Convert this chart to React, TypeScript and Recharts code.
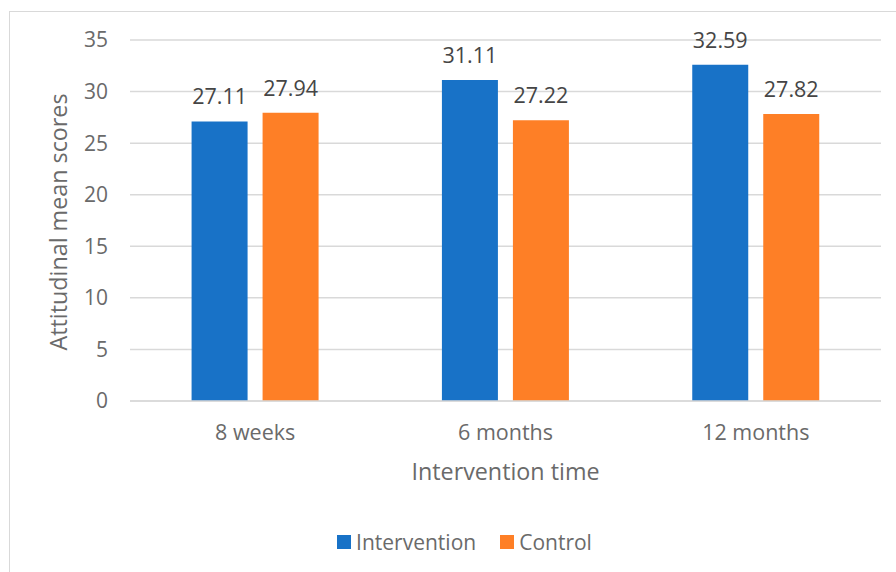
import React from 'react';
import { BarChart, Bar, XAxis, YAxis, CartesianGrid, Legend, LabelList } from 'recharts';

const categories = ['8 weeks', '6 months', '12 months'];
const intervention = [27.11, 31.11, 32.59];
const control = [27.94, 27.22, 27.82];
const yTicks = [0, 5, 10, 15, 20, 25, 30, 35];

const BLUE = '#1872C7';
const ORANGE = '#FE7F26';
const FONT = '"Open Sans", sans-serif';
const GRAY = '#6a6a6a';

const data = categories.map((c, i) => ({ name: c, intervention: intervention[i], control: control[i] }));

const renderLegend = () => (
  <div
    style={{
      display: 'flex',
      justifyContent: 'center',
      alignItems: 'flex-start',
      height: 44,
      gap: 24,
      fontFamily: FONT,
      fontSize: 21,
      lineHeight: '28px',
      color: GRAY,
      paddingLeft: 48,
    }}
  >
    {[
      { label: 'Intervention', color: BLUE },
      { label: 'Control', color: ORANGE },
    ].map((d) => (
      <div key={d.label} style={{ display: 'flex', alignItems: 'center', gap: 5 }}>
        <div style={{ width: 14, height: 14, background: d.color }} />
        {d.label}
      </div>
    ))}
  </div>
);

export default function App() {
  return (
    <div style={{ position: 'absolute', left: 0, top: 0, width: 896, height: 572, background: '#fff', overflow: 'hidden' }}>
      <div style={{ position: 'absolute', left: 9, top: 11, width: 900, height: 600, border: '1.5px solid #d9d9d9' }} />
      <div style={{ position: 'absolute', left: 0, top: 0 }}>
        <BarChart
          width={896}
          height={572}
          data={data}
          margin={{ top: 40, right: 15, left: 0, bottom: 0 }}
          barCategoryGap="24.6%"
          barGap={15}
        >
          <CartesianGrid vertical={false} stroke="#d9d9d9" strokeWidth={1.5} />
          <YAxis
            width={130}
            domain={[0, 35]}
            ticks={yTicks}
            axisLine={false}
            tickLine={false}
            tick={{ fill: GRAY, fontSize: 21, fontFamily: FONT }}
            tickMargin={16}
            label={{
              value: 'Attitudinal mean scores',
              angle: -90,
              position: 'insideLeft',
              dx: 54,
              dy: 130,
              style: { fill: GRAY, fontSize: 23.3, fontFamily: FONT },
            }}
          />
          <XAxis
            dataKey="name"
            height={127}
            axisLine={{ stroke: '#d9d9d9', strokeWidth: 1.5 }}
            tickLine={false}
            tick={{ fill: GRAY, fontSize: 21.5, fontFamily: FONT }}
            tickMargin={18}
            label={{
              value: 'Intervention time',
              position: 'insideTop',
              dy: 57,
              style: { fill: GRAY, fontSize: 23.3, fontFamily: FONT },
            }}
          />
          <Legend verticalAlign="bottom" content={renderLegend} />
          <Bar dataKey="intervention" name="Intervention" fill={BLUE} isAnimationActive={false}>
            <LabelList dataKey="intervention" position="top" offset={17} style={{ fill: '#454545', fontSize: 21.5, fontFamily: FONT }} />
          </Bar>
          <Bar dataKey="control" name="Control" fill={ORANGE} isAnimationActive={false}>
            <LabelList dataKey="control" position="top" offset={17} style={{ fill: '#454545', fontSize: 21.5, fontFamily: FONT }} />
          </Bar>
        </BarChart>
      </div>
    </div>
  );
}
